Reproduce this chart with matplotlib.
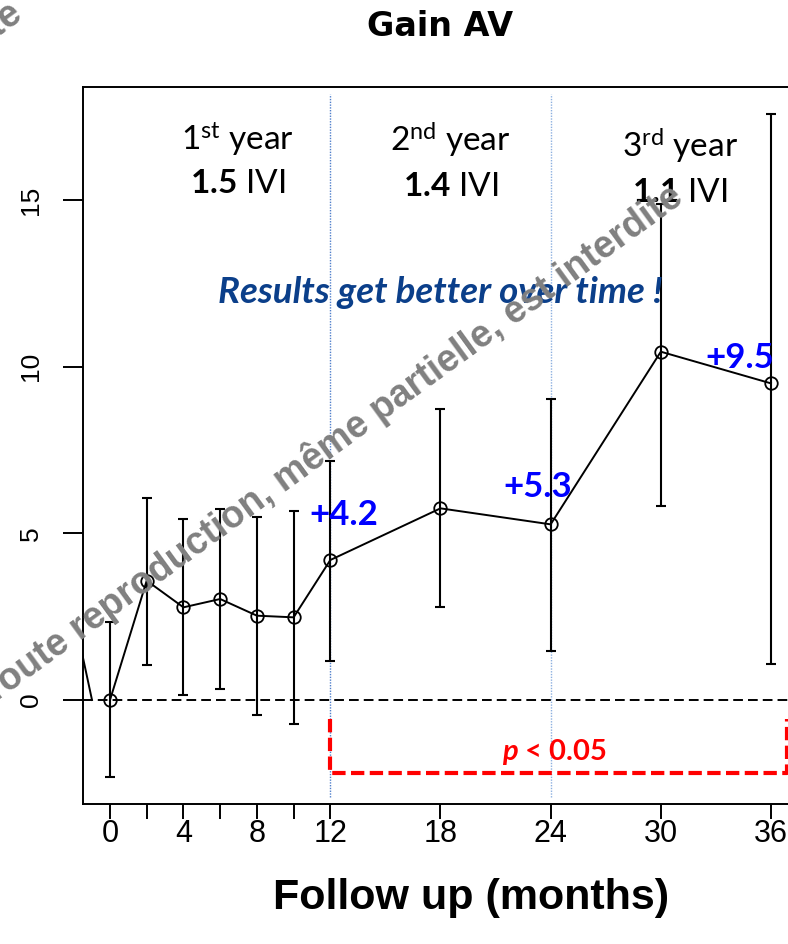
import matplotlib
matplotlib.use("Agg")
import matplotlib.pyplot as plt
from matplotlib import font_manager

# ---------------- data ----------------
months = [0, 2, 4, 6, 8, 10, 12, 18, 24, 30, 36]
gain = [0.0, 3.58, 2.78, 3.03, 2.53, 2.48, 4.2, 5.75, 5.27, 10.45, 9.5]
err_low = [2.3, 2.52, 2.63, 2.71, 2.98, 3.19, 3.02, 2.97, 3.8, 4.63, 8.43]
err_high = [2.33, 2.48, 2.64, 2.69, 2.97, 3.19, 2.97, 2.98, 3.76, 4.44, 8.07]

xtick_pos = [0, 2, 4, 6, 8, 10, 12, 18, 24, 30, 36]
xtick_labels = ["0", "", "4", "", "8", "", "12", "18", "24", "30", "36"]
ytick_pos = [0, 5, 10, 15]
ytick_labels = ["0", "5", "10", "15"]

year_bounds = [12, 24]
year_titles = [r"1$^{\mathrm{st}}$ year", r"2$^{\mathrm{nd}}$ year", r"3$^{\mathrm{rd}}$ year"]
year_ivi = [r"$\mathbf{1.5}$ IVI", r"$\mathbf{1.4}$ IVI", r"$\mathbf{1.1}$ IVI"]
year_x = [6.97, 18.55, 31.05]

gain_labels = ["+4.2", "+5.3", "+9.5"]
gain_label_x = [12.75, 23.3, 34.3]
gain_label_y = [5.25, 6.09, 9.96]

bracket_x = [12, 12, 36.87, 36.87]
bracket_y = [-0.57, -2.19, -2.19, -0.57]

stray_x = [-1.6, -0.98]
stray_y = [1.6, 0.0]

watermark = "Toute reproduction, même partielle, est interdite"


def has_font(name):
    try:
        font_manager.findfont(font_manager.FontProperties(family=name), fallback_to_default=False)
        return True
    except Exception:
        return False


narrow = "Liberation Sans Narrow" if has_font("Liberation Sans Narrow") else None
calib = "Lato" if has_font("Lato") else "DejaVu Sans"

plt.rcParams["mathtext.fontset"] = "custom"
plt.rcParams["mathtext.rm"] = calib
plt.rcParams["mathtext.bf"] = calib + ":bold"
plt.rcParams["mathtext.it"] = calib + ":italic:bold"

W, H = 788, 944
fig = plt.figure(figsize=(W / 100, H / 100), dpi=100)

# axes box in pixels
left_px, right_px, top_px, bot_px = 83, 793, 87, 804
ax = fig.add_axes([left_px / W, 1 - bot_px / H, (right_px - left_px) / W, (bot_px - top_px) / H])

# data-to-pixel mapping: x=0 -> 110 px, 18.36 px per month; y=0 -> 700 px, 33.33 px per unit
x0px, xs = 110, 18.36
y0px, ys = 700, 33.33
ax.set_xlim((left_px - x0px) / xs, (right_px - x0px) / xs)
ax.set_ylim((y0px - bot_px) / ys, (y0px - top_px) / ys)

for s in ax.spines.values():
    s.set_linewidth(1.4)

# zero dashed line
ax.axhline(0, color="black", lw=1.4, ls=(0, (5, 2.6)), zorder=2)

# year separators
for xb, col in zip(year_bounds, ["#4F7FCB", "#8DB0E0"]):
    ax.plot([xb, xb], [(y0px - 797) / ys, (y0px - 94) / ys], color=col, lw=1.0,
            ls=(0, (1, 1)), zorder=1)

# red bracket
ax.plot(bracket_x, bracket_y, color="#FF0000", lw=3, ls=(0, (3.2, 1.3)), zorder=3,
        solid_capstyle="butt", dash_capstyle="butt")

# stray line
ax.plot(stray_x, stray_y, color="black", lw=1.4, zorder=3)

# error bars + line
ax.errorbar(months, gain, yerr=[err_low, err_high], fmt="none", ecolor="black",
            elinewidth=1.5, capsize=3.3, capthick=1.5, zorder=4)
ax.plot(months, gain, color="black", lw=1.4, marker="o", ms=9, mfc="none",
        mec="black", mew=1.3, zorder=5)

# ticks
ax.set_xticks(xtick_pos)
xfont = dict(family=narrow, size=23) if narrow else dict(family="Liberation Sans", size=22)
ax.set_xticklabels(xtick_labels, fontdict=xfont)
ax.tick_params(axis="x", length=11, width=1.4, pad=0, direction="out")
ax.set_yticks(ytick_pos)
ax.set_yticklabels(ytick_labels, rotation=90, va="center",
                   fontdict=dict(family="Liberation Sans", size=19))
ax.tick_params(axis="y", length=14.5, width=1.4, pad=14, direction="out")

# year texts
for xt, t1, t2, yb1, yb2 in zip(year_x, year_titles, year_ivi,
                                [16.5, 16.44, 16.26], [15.21, 15.12, 14.94]):
    ax.text(xt, yb1, t1, ha="center", va="baseline", fontsize=24, family=calib, color="black", zorder=6)
    ax.text(xt, yb2, t2, ha="center", va="baseline", fontsize=24, family=calib, color="black", zorder=6)

ax.text(17.97, 11.91, "Results get better over time !", ha="center", va="baseline",
        fontsize=26.5, family=calib, fontweight="bold", fontstyle="italic", color="#0B3F8A", zorder=6)

for lx, ly, lt in zip(gain_label_x, gain_label_y, gain_labels):
    ax.text(lx, ly, lt, ha="center", va="baseline", fontsize=25, family=calib,
            fontweight="bold", color="#0000FF", zorder=6)

ax.text(24.2, -1.8, r"$\mathit{p}$ < 0.05", ha="center", va="baseline", fontsize=21,
        family=calib, fontweight="bold", color="#FF0000", zorder=6)

# title and x label
fig.text(440 / W, 1 - 26 / H, "Gain AV", ha="center", va="center", fontsize=24,
         family="DejaVu Sans", fontweight="bold")
xl_font = dict(family=narrow, size=37) if narrow else dict(family="Liberation Sans", size=31)
fig.text(471 / W, 1 - 898 / H, "Follow up (months)", ha="center", va="center",
         fontweight="bold", **xl_font)

# watermark
for cx, cy in [(332, 445), (-329, 262)]:
    fig.text(cx / W, 1 - cy / H, watermark, ha="center", va="center", rotation=36,
             rotation_mode="anchor", fontsize=27, family="Liberation Sans",
             fontweight="bold", color="#808080", zorder=10)

fig.savefig("out.png", dpi=100)
